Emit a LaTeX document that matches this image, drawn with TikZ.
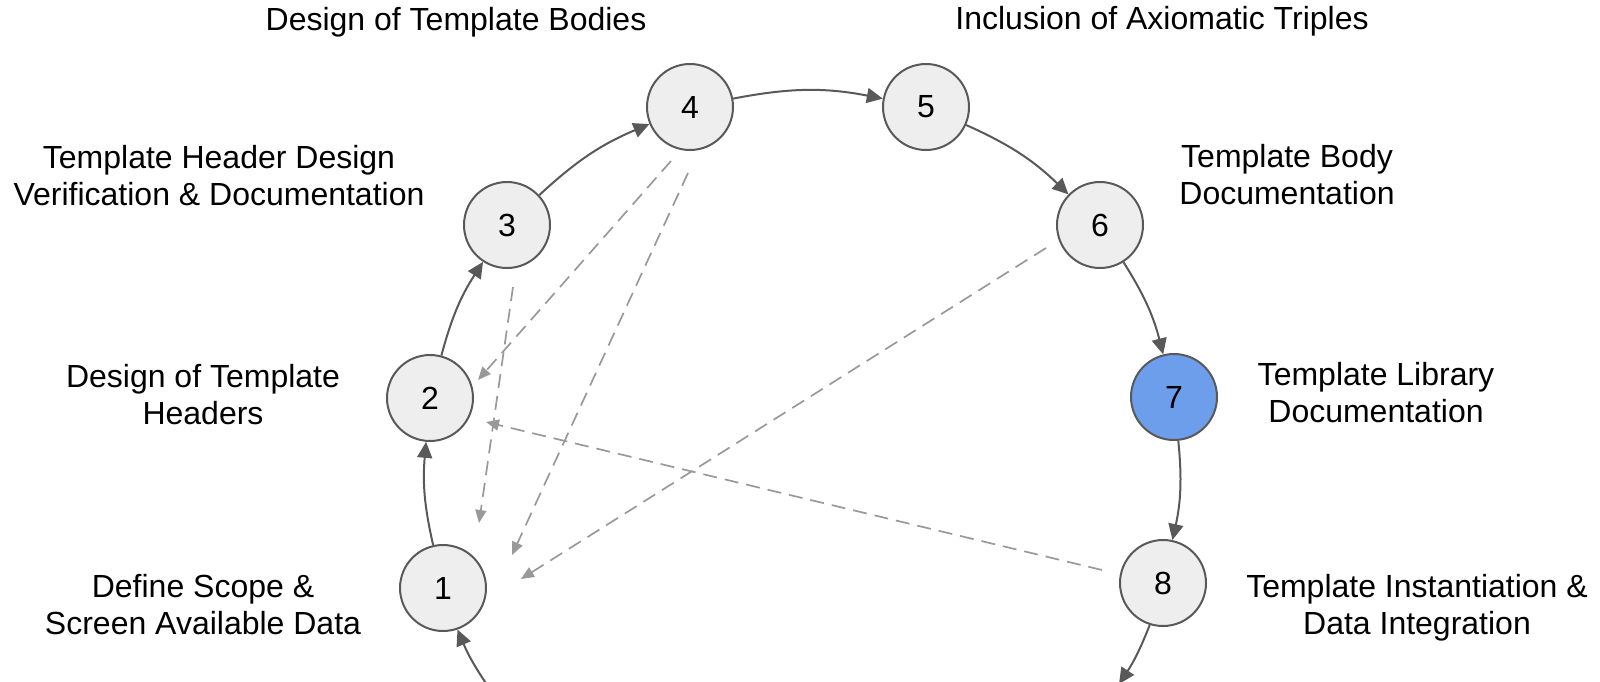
\documentclass[tikz,border=0pt]{standalone}
\usepackage{fontspec}
\setmainfont{Liberation Sans}
\usetikzlibrary{arrows.meta,calc}

\definecolor{stepfill}{HTML}{EEEEEE}
\definecolor{stepline}{HTML}{595959}
\definecolor{hilite}{HTML}{6D9EEB}
\definecolor{linkgray}{HTML}{999999}

% two centred lines whose first baseline is the node's base
\newcommand\twolines[2]{\begin{tabular}[t]{@{}c@{}}#1\\#2\end{tabular}}

\begin{document}
\begin{tikzpicture}[x=0.5pt,y=-0.5pt,
  stepnode/.style={circle, draw=stepline, line width=1pt, fill=stepfill,
    minimum size=43pt, inner sep=0pt, font=\fontsize{16}{18}\selectfont},
  caption/.style={anchor=base, inner sep=0pt, font=\fontsize{16}{18.5}\selectfont},
  flow/.style={draw=stepline, line width=1pt, -{Triangle[length=8pt,width=7.5pt]}},
  link/.style={draw=linkgray, line width=0.85pt, dash pattern=on 7pt off 4pt,
    -{Triangle[length=6.5pt,width=5.5pt]}},
]
\useasboundingbox (0,0) rectangle (1600,681);
\clip (0,0) rectangle (1600,681);

% process steps
\node[stepnode] (n1) at (443,588) {1};
\node[stepnode] (n2) at (430,398) {2};
\node[stepnode] (n3) at (507,225) {3};
\node[stepnode] (n4) at (690,107) {4};
\node[stepnode] (n5) at (926,107) {5};
\node[stepnode] (n6) at (1100,225) {6};
\node[stepnode, fill=hilite] (n7) at (1174,397) {7};
\node[stepnode] (n8) at (1163,583) {8};

% loop continues below the lower edge
\coordinate (c8) at (1119,684);
\coordinate (c0) at (492,692);

% step captions
\node[caption] (t1) at (203,597) {\twolines{Define Scope \&}{Screen Available Data}};
\node[caption] (t2) at (203,387) {\twolines{Design of Template}{Headers}};
\node[caption] (t3) at (219,168) {\twolines{Template Header Design}{Verification \& Documentation}};
\node[caption] (t4) at (456,30) {Design of Template Bodies};
\node[caption] (t5) at (1162,29) {Inclusion of Axiomatic Triples};
\node[caption] (t6) at (1287,167) {\twolines{Template Body}{Documentation}};
\node[caption] (t7) at (1376,385) {\twolines{Template Library}{Documentation}};
\node[caption] (t8) at (1417,597) {\twolines{Template Instantiation \&}{Data Integration}};

% main cycle
\draw[flow] (c0) to[bend left=6] (n1);
\draw[flow] (n1) to[bend left=9] (n2);
\draw[flow] (n2) to[bend left=9] (n3);
\draw[flow] (n3) to[bend left=10] (n4);
\draw[flow] (n4) to[bend left=11] (n5);
\draw[flow] (n5) to[bend left=10] (n6);
\draw[flow] (n6) to[bend left=9] (n7);
\draw[flow] (n7) to[bend left=9] (n8);
\draw[flow] (n8) to[bend left=6] (c8);

% feedback links
\draw[link] ($(n3)+(6,62)$) -- ($(n1)+(36,-65)$);
\draw[link] ($(n4)+(-19,54)$) -- ($(n2)+(48,-18)$);
\draw[link] ($(n4)+(-2,66)$) -- ($(n1)+(69,-33)$);
\draw[link] ($(n6)+(-54,23)$) -- ($(n1)+(78,-9)$);
\draw[link] ($(n8)+(-61,-13)$) -- ($(n2)+(56,24)$);
\end{tikzpicture}
\end{document}
